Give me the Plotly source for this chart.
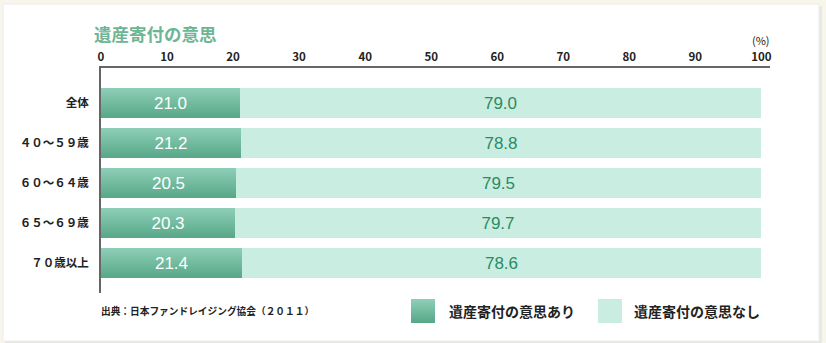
import plotly.graph_objects as go

# Data: intention to leave a bequest donation (%), by age group
categories = ["全体", "４０～５９歳", "６０～６４歳", "６５～６９歳", "７０歳以上"]
intend_yes = [21.0, 21.2, 20.5, 20.3, 21.4]
intend_no = [79.0, 78.8, 79.5, 79.7, 78.6]
tick_values = [0, 10, 20, 30, 40, 50, 60, 70, 80, 90, 100]
tick_labels = [str(v) for v in tick_values]
series_names = ["遺産寄付の意思あり", "遺産寄付の意思なし"]
chart_title = "遺産寄付の意思"
source_note = "出典：日本ファンドレイジング協会（２０１１）"

W_FIG, H_FIG = 826, 343
L, R, T, B = 101, 770, 68, 293
PW, PH = R - L, B - T

JP = "Noto Sans CJK JP"
NUM = "Liberation Sans"

DARK_TOP = (141, 205, 182)
DARK_BOT = (88, 168, 137)
LIGHT = "#c9ede1"
AXIS = "#666666"


def xp(px):
    return (px - L) / PW


def yp(py):
    return (B - py) / PH


def mix(a, b, t):
    return "rgb(%d,%d,%d)" % tuple(round(a[k] + (b[k] - a[k]) * t) for k in range(3))


BAR_W = 0.75
N_STRIPS = 15
fig = go.Figure()

# dark bars drawn as horizontal strips to give a vertical gradient
for i in range(N_STRIPS):
    fig.add_trace(go.Bar(
        x=intend_yes, y=categories, orientation="h",
        width=BAR_W / N_STRIPS, offset=-BAR_W / 2 + i * BAR_W / N_STRIPS,
        marker=dict(color=mix(DARK_TOP, DARK_BOT, i / (N_STRIPS - 1)), line=dict(width=0)),
        showlegend=False, hoverinfo="skip",
    ))

# value labels for the dark segment
fig.add_trace(go.Bar(
    x=intend_yes, y=categories, orientation="h", width=BAR_W,
    marker=dict(color="rgba(0,0,0,0)", line=dict(width=0)),
    text=["%.1f" % v for v in intend_yes], textposition="inside",
    insidetextanchor="middle", textangle=0,
    textfont=dict(family=NUM, size=17, color="white"),
    showlegend=False, hoverinfo="skip",
))

# light segment stacked after the dark one
fig.add_trace(go.Bar(
    x=intend_no, y=categories, base=intend_yes, orientation="h", width=BAR_W,
    marker=dict(color=LIGHT, line=dict(width=0)),
    text=["%.1f" % v for v in intend_no], textposition="inside",
    insidetextanchor="middle", textangle=0,
    textfont=dict(family=NUM, size=17, color="#2b8b64"),
    showlegend=False, hoverinfo="skip",
))

# triangular tick marks under the top axis line
y_top = -0.875
fig.add_trace(go.Scatter(
    x=tick_values[1:], y=[y_top + 2.2 / 40] * (len(tick_values) - 1),
    mode="markers", marker=dict(symbol="triangle-down", size=7, color=AXIS),
    cliponaxis=False, showlegend=False, hoverinfo="skip",
))

shapes = [
    # card shadow and white panel
    dict(type="rect", xref="paper", yref="paper", x0=xp(5), x1=xp(822), y0=yp(6), y1=yp(343),
         fillcolor="#e8e8e4", line=dict(width=0), layer="below"),
    dict(type="rect", xref="paper", yref="paper", x0=xp(3), x1=xp(819), y0=yp(4), y1=yp(341),
         fillcolor="white", line=dict(width=1, color="#ececea"), layer="below"),
]

# legend swatches
n_sw = 12
for i in range(n_sw):
    y0 = 299 + i * 24 / n_sw
    shapes.append(dict(type="rect", xref="paper", yref="paper",
                       x0=xp(411), x1=xp(435), y0=yp(y0 + 24 / n_sw), y1=yp(y0),
                       fillcolor=mix(DARK_TOP, DARK_BOT, i / (n_sw - 1)), line=dict(width=0)))
shapes.append(dict(type="rect", xref="paper", yref="paper",
                   x0=xp(598), x1=xp(622), y0=yp(323), y1=yp(299),
                   fillcolor=LIGHT, line=dict(width=0)))

annotations = [
    dict(text="<b>%s</b>" % chart_title, xref="paper", yref="paper", x=xp(92), y=yp(33),
         xanchor="left", yanchor="middle", showarrow=False,
         font=dict(family=JP, size=17.5, color="#6db595")),
    dict(text="(%)", xref="paper", yref="paper", x=xp(761), y=yp(40),
         xanchor="center", yanchor="middle", showarrow=False,
         font=dict(family=JP, size=11, color="#222")),
    dict(text="<b>%s</b>" % source_note, xref="paper", yref="paper", x=xp(99), y=yp(311),
         xanchor="left", yanchor="middle", showarrow=False,
         font=dict(family=JP, size=9.7, color="#222")),
    dict(text="<b>%s</b>" % series_names[0], xref="paper", yref="paper", x=xp(447), y=yp(311),
         xanchor="left", yanchor="middle", showarrow=False,
         font=dict(family=JP, size=14, color="#222")),
    dict(text="<b>%s</b>" % series_names[1], xref="paper", yref="paper", x=xp(632), y=yp(311),
         xanchor="left", yanchor="middle", showarrow=False,
         font=dict(family=JP, size=14, color="#222")),
]

fig.update_layout(
    width=W_FIG, height=H_FIG,
    margin=dict(l=L, r=W_FIG - R, t=T, b=H_FIG - B, pad=0),
    paper_bgcolor="#f8f6ec", plot_bgcolor="rgba(0,0,0,0)",
    barmode="overlay", bargap=0,
    showlegend=False,
    shapes=shapes, annotations=annotations,
    xaxis=dict(
        side="top", range=[0, 101.3], tickvals=tick_values, ticktext=tick_labels,
        showline=True, linecolor=AXIS, linewidth=2, showgrid=False, zeroline=False,
        ticks="", ticklabelstandoff=0,
        tickfont=dict(family=JP, size=11.5, color="#222", weight=700),
        fixedrange=True,
    ),
    yaxis=dict(
        type="category", categoryorder="array", categoryarray=categories,
        range=[4.75, -0.875],
        showline=True, linecolor=AXIS, linewidth=2, showgrid=False, zeroline=False,
        ticks="", ticklabelstandoff=8,
        tickfont=dict(family=JP, size=11.5, color="#222", weight=700),
        fixedrange=True,
    ),
)

fig.write_html("out.html", config=dict(displayModeBar=False))
